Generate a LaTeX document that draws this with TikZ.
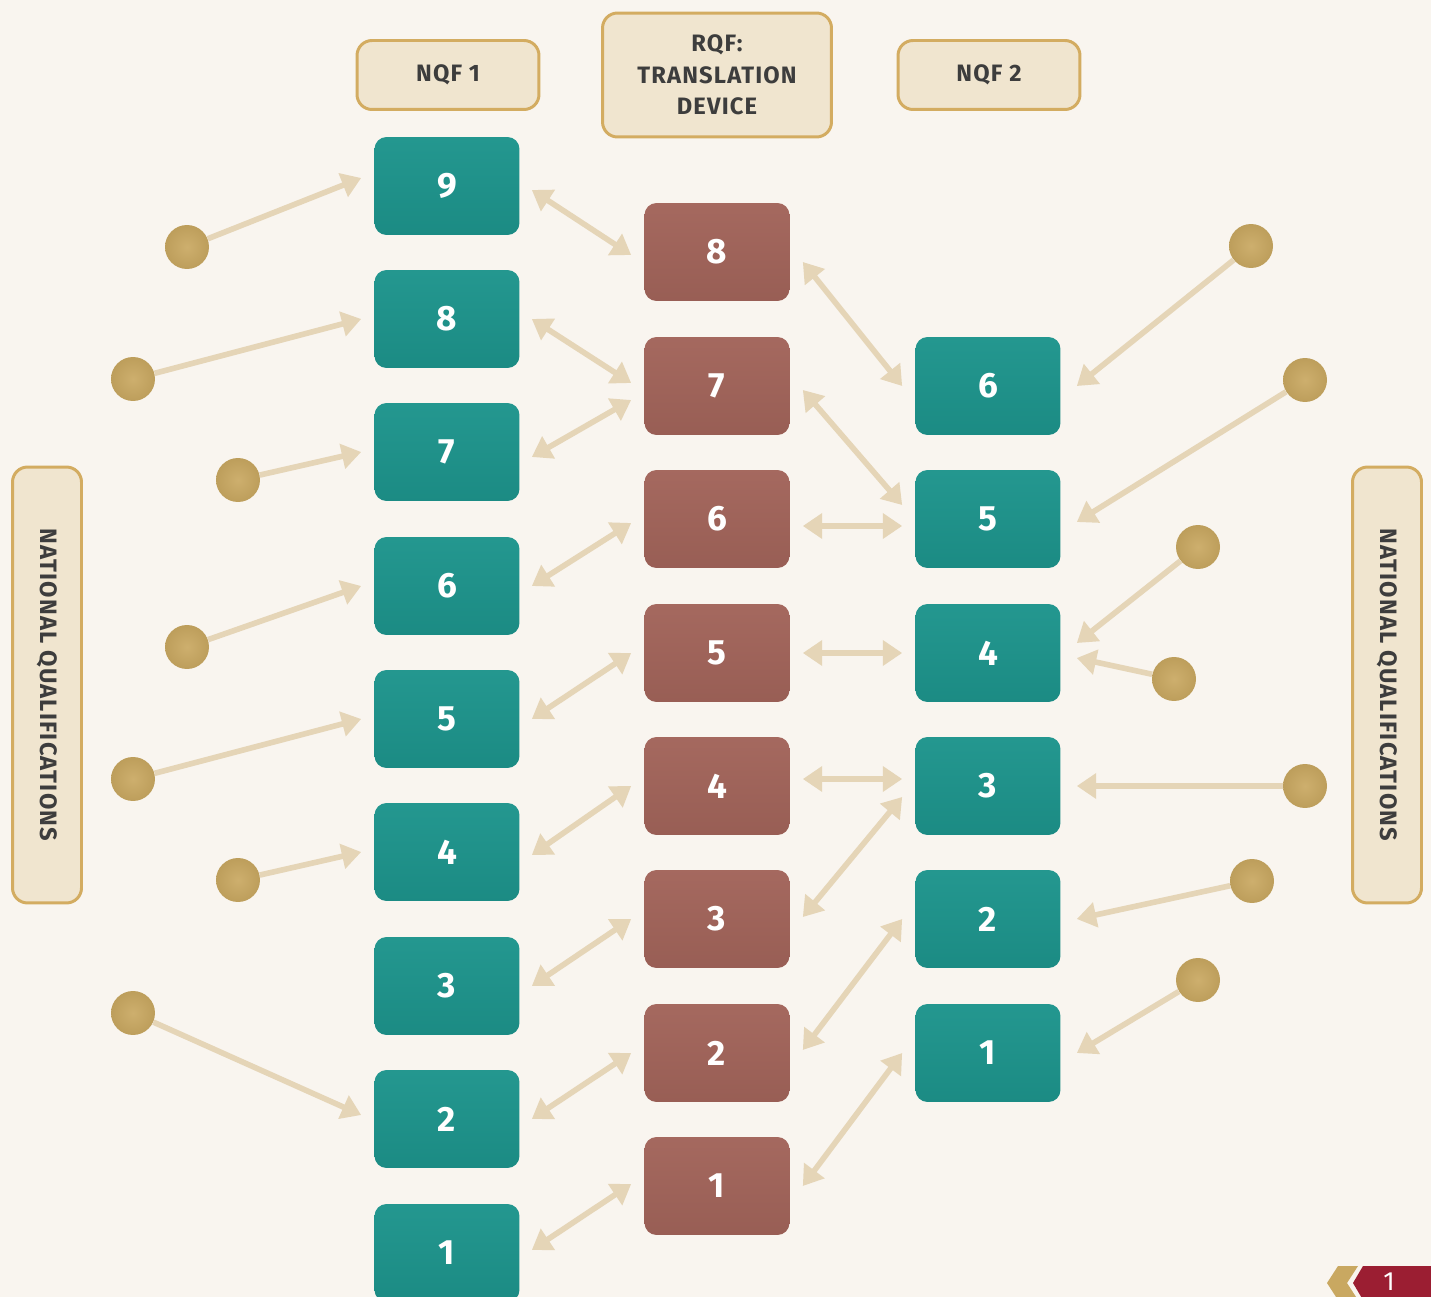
\documentclass[tikz,border=0pt]{standalone}
\usepackage{fontspec}
\setmainfont{Fira Sans}
\newfontfamily\tagfont[LetterSpace=5]{Fira Sans}
\usetikzlibrary{arrows.meta}
\definecolor{paper}{RGB}{249,245,239}
\definecolor{levelA}{RGB}{29,148,140}
\definecolor{levelR}{RGB}{162,100,90}
\definecolor{dotGold}{RGB}{201,168,97}
\definecolor{linkTan}{RGB}{229,213,183}
\definecolor{tagFill}{RGB}{240,229,207}
\definecolor{tagLine}{RGB}{211,172,97}
\definecolor{tagText}{RGB}{61,61,61}
\definecolor{tabRed}{RGB}{155,30,50}

\begin{document}
\begin{tikzpicture}[x=0.02cm, y=-0.02cm,
  level/.style={rounded corners=0.24cm, minimum width=2.9cm, minimum height=1.96cm,
    text=white, font=\fontsize{20}{24}\selectfont\bfseries},
  nqf/.style={level, top color=levelA!97!white, bottom color=levelA!94!black},
  rqf/.style={level, top color=levelR!97!white, bottom color=levelR!94!black},
  tag/.style={draw=tagLine, line width=1.7pt, fill=tagFill, rounded corners=0.3cm,
    text=tagText, align=center, font=\tagfont\fontsize{13.5}{18}\selectfont\bfseries},
  dot/.style={circle, inner sep=0pt, minimum size=0.88cm,
    inner color=dotGold!92!white, outer color=dotGold!94!black},
  link/.style={draw=linkTan, line width=3.2pt,
    {Triangle[length=11pt,width=14pt]}-{Triangle[length=11pt,width=14pt]}},
  feed/.style={draw=linkTan, line width=3.2pt, -{Triangle[length=11pt,width=14pt]}}]
  \fill[paper] (0,0) rectangle (1431,1297);
  \useasboundingbox (0,0) rectangle (1431,1297);

  \node[tag, minimum width=3.64cm, minimum height=1.38cm] (hA) at (448,75) {NQF 1};
  \node[tag, minimum width=4.58cm, minimum height=2.48cm] (hR) at (717,75) {RQF:\\TRANSLATION\\DEVICE};
  \node[tag, minimum width=3.64cm, minimum height=1.38cm] (hB) at (989,75) {NQF 2};
  \node[tag, rotate=-90, minimum width=8.72cm, minimum height=1.38cm] (sideL) at (47,685) {NATIONAL QUALIFICATIONS};
  \node[tag, rotate=-90, minimum width=8.72cm, minimum height=1.38cm] (sideR) at (1387,685) {NATIONAL QUALIFICATIONS};

  \node[nqf] (a9) at (447,186) {9};
  \node[nqf] (a8) at (447,319) {8};
  \node[nqf] (a7) at (447,452) {7};
  \node[nqf] (a6) at (447,586) {6};
  \node[nqf] (a5) at (447,719) {5};
  \node[nqf] (a4) at (447,852) {4};
  \node[nqf] (a3) at (447,986) {3};
  \node[nqf] (a2) at (447,1119) {2};
  \node[nqf] (a1) at (447,1253) {1};

  \node[rqf] (r8) at (717,252) {8};
  \node[rqf] (r7) at (717,386) {7};
  \node[rqf] (r6) at (717,519) {6};
  \node[rqf] (r5) at (717,653) {5};
  \node[rqf] (r4) at (717,786) {4};
  \node[rqf] (r3) at (717,919) {3};
  \node[rqf] (r2) at (717,1053) {2};
  \node[rqf] (r1) at (717,1186) {1};

  \node[nqf] (b6) at (988,386) {6};
  \node[nqf] (b5) at (988,519) {5};
  \node[nqf] (b4) at (988,653) {4};
  \node[nqf] (b3) at (988,786) {3};
  \node[nqf] (b2) at (988,919) {2};
  \node[nqf] (b1) at (988,1053) {1};

  \node[dot] (dl1) at (187,247) {};
  \node[dot] (dl2) at (133,379) {};
  \node[dot] (dl3) at (238,480) {};
  \node[dot] (dl4) at (187,647) {};
  \node[dot] (dl5) at (133,779) {};
  \node[dot] (dl6) at (238,880) {};
  \node[dot] (dl7) at (133,1013) {};

  \node[dot] (dr1) at (1251,246) {};
  \node[dot] (dr2) at (1305,380) {};
  \node[dot] (dr3) at (1198,547) {};
  \node[dot] (dr4) at (1174,679) {};
  \node[dot] (dr5) at (1305,786) {};
  \node[dot] (dr6) at (1252,881) {};
  \node[dot] (dr7) at (1198,980) {};

  \draw[feed] (dl1) -- ([xshift=-0.26cm, yshift=0.16cm]a9.west);
  \draw[feed] (dl2) -- ([xshift=-0.26cm]a8.west);
  \draw[feed] (dl3) -- ([xshift=-0.26cm]a7.west);
  \draw[feed] (dl4) -- ([xshift=-0.26cm]a6.west);
  \draw[feed] (dl5) -- ([xshift=-0.26cm]a5.west);
  \draw[feed] (dl6) -- ([xshift=-0.26cm]a4.west);
  \draw[feed] (dl7) -- ([xshift=-0.26cm, yshift=0.08cm]a2.west);

  \draw[feed] (dr1) -- ([xshift=0.32cm]b6.east);
  \draw[feed] (dr2) -- ([xshift=0.32cm, yshift=-0.06cm]b5.east);
  \draw[feed] (dr3) -- ([xshift=0.32cm, yshift=0.2cm]b4.east);
  \draw[feed] (dr4) -- ([xshift=0.32cm, yshift=-0.1cm]b4.east);
  \draw[feed] (dr5) -- ([xshift=0.32cm]b3.east);
  \draw[feed] (dr6) -- ([xshift=0.32cm]b2.east);
  \draw[feed] (dr7) -- ([xshift=0.32cm]b1.east);

  \draw[link] ([xshift=0.24cm, yshift=-0.08cm]a9.east) -- ([xshift=-0.26cm, yshift=-0.06cm]r8.west);
  \draw[link] ([xshift=0.24cm]a8.east) -- ([xshift=-0.26cm, yshift=0.06cm]r7.west);
  \draw[link] ([xshift=0.24cm, yshift=-0.1cm]a7.east) -- ([xshift=-0.26cm, yshift=-0.28cm]r7.west);
  \draw[link] ([xshift=0.24cm]a6.east) -- ([xshift=-0.26cm, yshift=-0.08cm]r6.west);
  \draw[link] ([xshift=0.24cm]a5.east) -- ([xshift=-0.26cm]r5.west);
  \draw[link] ([xshift=0.24cm, yshift=-0.06cm]a4.east) -- ([xshift=-0.26cm]r4.west);
  \draw[link] ([xshift=0.24cm]a3.east) -- ([xshift=-0.26cm]r3.west);
  \draw[link] ([xshift=0.24cm]a2.east) -- ([xshift=-0.26cm]r2.west);
  \draw[link] ([xshift=0.24cm, yshift=0.06cm]a1.east) -- ([xshift=-0.26cm, yshift=0.04cm]r1.west);

  \draw[link] ([xshift=0.26cm, yshift=-0.2cm]r8.east) -- ([xshift=-0.26cm]b6.west);
  \draw[link] ([xshift=0.26cm, yshift=-0.08cm]r7.east) -- ([xshift=-0.26cm, yshift=0.28cm]b5.west);
  \draw[link] ([xshift=0.26cm, yshift=-0.14cm]r6.east) -- ([xshift=-0.26cm, yshift=-0.14cm]b5.west);
  \draw[link] ([xshift=0.26cm]r5.east) -- ([xshift=-0.26cm]b4.west);
  \draw[link] ([xshift=0.26cm, yshift=0.14cm]r4.east) -- ([xshift=-0.26cm, yshift=0.14cm]b3.west);
  \draw[link] ([xshift=0.26cm, yshift=0.04cm]r3.east) -- ([xshift=-0.26cm, yshift=-0.22cm]b3.west);
  \draw[link] ([xshift=0.26cm, yshift=0.06cm]r2.east) -- ([xshift=-0.26cm]b2.west);
  \draw[link] ([xshift=0.26cm]r1.east) -- ([xshift=-0.26cm]b1.west);

  \fill[dotGold] (1338,1266) -- (1358,1266) -- (1347,1283) -- (1358,1300) -- (1338,1300) -- (1327,1283) -- cycle;
  \fill[tabRed] (1363,1266) -- (1431,1266) -- (1431,1300) -- (1363,1300) -- (1353,1283) -- cycle;
  \node[text=white, inner sep=0pt, font=\fontsize{15}{18}\selectfont] (page) at (1389,1282) {1};
\end{tikzpicture}
\end{document}
